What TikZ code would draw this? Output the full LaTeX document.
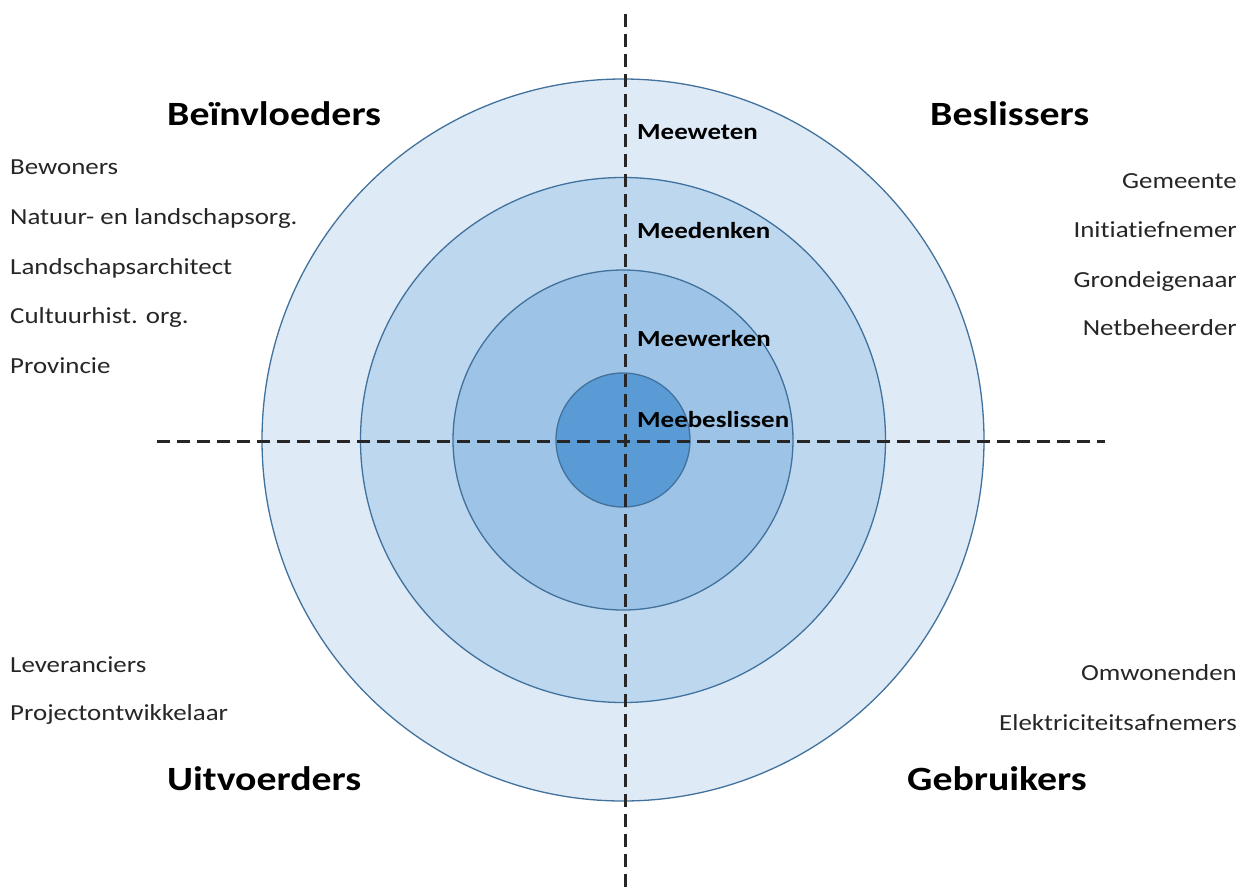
\documentclass[tikz,border=0pt]{standalone}
\usepackage{fontspec}
\setmainfont{Carlito}[FakeStretch=1.17, Ligatures=NoCommon]
\definecolor{ringA}{HTML}{DEEBF7}
\definecolor{ringB}{HTML}{BDD7EE}
\definecolor{ringC}{HTML}{9DC3E6}
\definecolor{ringD}{HTML}{5B9BD5}
\definecolor{ringline}{HTML}{41719C}
\begin{document}
\begin{tikzpicture}[x=1pt, y=-1pt,
  ring/.style={circle, draw=ringline, line width=1.3pt, inner sep=0pt},
  axis/.style={dashed, dash pattern=on 13pt off 7pt, line width=3pt, black!85},
  kop/.style={anchor=base west, inner sep=0pt, font=\fontsize{34}{40}\selectfont\bfseries},
  rol/.style={anchor=base west, inner sep=0pt, font=\fontsize{23}{28}\selectfont, text=black!85},
  rolr/.style={anchor=base east, inner sep=0pt, font=\fontsize{23}{28}\selectfont, text=black!85},
  mee/.style={anchor=base west, inner sep=0pt, font=\fontsize{23}{28}\selectfont\bfseries}]
\useasboundingbox (0,0) rectangle (1243,887);
\coordinate (c) at (623,440);
\node [ring, fill=ringA, minimum size=722pt] (buiten) at (c) {};
\node [ring, fill=ringB, minimum size=525pt] (midden) at (c) {};
\node [ring, fill=ringC, minimum size=340pt] (binnen) at (c) {};
\node [ring, fill=ringD, minimum size=134pt] (kern) at (c) {};
% assen
\coordinate (boven) at (625,14);
\coordinate (onder) at (625,887);
\coordinate (links) at (157,441);
\coordinate (rechts) at (1105,441);
\draw [axis] (boven) -- (onder);
\draw [axis] (links) -- (rechts);
% niveaus
\node [mee] (weten) at (637,139) {Meeweten};
\node [mee] (denken) at (637,238) {Meedenken};
\node [mee] (werken) at (637,346) {Meewerken};
\node [mee] (beslissen) at (637,427) {Meebeslissen};
% kwadranten
\node [kop] (beinvloeders) at (167,125) {Beïnvloeders};
\node [kop] (beslissers) at (930,125) {Beslissers};
\node [kop] (uitvoerders) at (167,790) {Uitvoerders};
\node [kop] (gebruikers) at (907,790) {Gebruikers};
% partijen
\node [rol] (bewoners) at (10,174) {Bewoners};
\node [rol] (natuur) at (10,224) {Natuur- en landschapsorg.};
\node [rol] (architect) at (10,274) {Landschapsarchitect};
\node [rol] (cultuur) at (10,323) {Cultuurhist. org.};
\node [rol] (provincie) at (10,373) {Provincie};
\node [rolr] (gemeente) at (1237,188) {Gemeente};
\node [rolr] (initiatief) at (1237,237) {Initiatiefnemer};
\node [rolr] (grond) at (1237,287) {Grondeigenaar};
\node [rolr] (net) at (1237,335) {Netbeheerder};
\node [rol] (leveranciers) at (10,672) {Leveranciers};
\node [rol] (project) at (10,720) {Projectontwikkelaar};
\node [rolr] (omwonenden) at (1237,680) {Omwonenden};
\node [rolr] (afnemers) at (1237,730) {Elektriciteitsafnemers};
\end{tikzpicture}
\end{document}
